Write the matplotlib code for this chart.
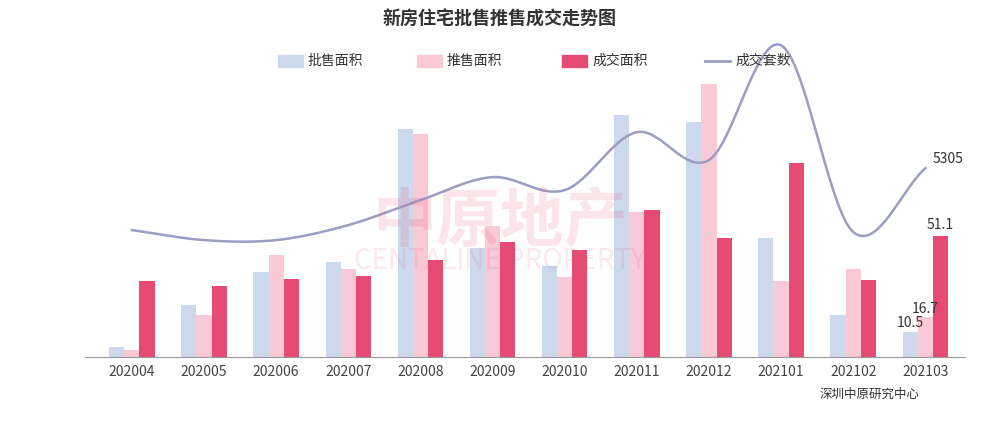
import numpy as np
import matplotlib.pyplot as plt

plt.rcParams['font.family'] = 'Noto Sans CJK SC'

months = ['202004', '202005', '202006', '202007', '202008', '202009',
          '202010', '202011', '202012', '202101', '202102', '202103']
pifu = [4.2, 22, 36, 40, 96, 46, 38.5, 102, 99, 50, 17.5, 10.5]      # 批售面积
tuishou = [3, 17.5, 43, 37, 94, 55, 33.5, 61, 115, 32, 37, 16.7]     # 推售面积
chengjiao = [32, 30, 33, 34, 41, 48.5, 45, 62, 50, 81.5, 32.5, 51.1]  # 成交面积
taoshu = [3565, 3284, 3284, 3705, 4407, 5053, 4688, 6316, 5530, 8758, 3509, 5305]


def smooth(x, y, n=20):
    # Catmull-Rom 曲线，只用于画平滑线
    x = np.asarray(x, float)
    y = np.asarray(y, float)
    px = np.concatenate([[2 * x[0] - x[1]], x, [2 * x[-1] - x[-2]]])
    py = np.concatenate([[2 * y[0] - y[1]], y, [2 * y[-1] - y[-2]]])
    xs, ys = [], []
    t = np.linspace(0, 1, n, endpoint=False)
    for i in range(1, len(px) - 2):
        for arr, out in ((px, xs), (py, ys)):
            p0, p1, p2, p3 = arr[i - 1:i + 3]
            out.extend(0.5 * ((2 * p1) + (-p0 + p2) * t
                              + (2 * p0 - 5 * p1 + 4 * p2 - p3) * t ** 2
                              + (-p0 + 3 * p1 - 3 * p2 + p3) * t ** 3))
    xs.append(x[-1])
    ys.append(y[-1])
    return xs, ys


fig = plt.figure(figsize=(10, 4.21), dpi=100)
ax = fig.add_axes([0.085, 0.152, 0.88, 0.705])
x = np.arange(len(months))
w = 0.21
ax.bar(x - w, pifu, w, color='#ccd9ec')
ax.bar(x, tuishou, w, color='#f9c9d6')
ax.bar(x + w, chengjiao, w, color='#e64b73')
ax.set_ylim(0, 125)
ax.set_xlim(-0.65, len(months) - 0.45)
ax.set_xticks(x)
ax.set_xticklabels(months, fontsize=10, color='#444444')
ax.set_yticks([])
for s in ['top', 'right', 'left']:
    ax.spines[s].set_visible(False)
ax.spines['bottom'].set_color('#999999')
ax.tick_params(axis='x', length=0, pad=6)

ax2 = ax.twinx()
ax2.set_ylim(0, 8337)
sx, sy = smooth(x, taoshu)
ax2.plot(sx, sy, color='#9b9dc3', lw=1.8, clip_on=False)
ax2.axis('off')

# 数据标签
ax.text(x[-1] - w, pifu[-1] + 2, '10.5', ha='center', fontsize=10, color='#333333')
ax.text(x[-1], tuishou[-1] + 2, '16.7', ha='center', fontsize=10, color='#333333')
ax.text(x[-1] + w, chengjiao[-1] + 3, '51.1', ha='center', fontsize=10, color='#333333')
ax2.text(x[-1] + 0.1, taoshu[-1] + 150, '5305', fontsize=10, color='#333333')

# 水印
fig.text(0.5, 0.47, '中原地产', fontsize=46, color='#e64b73', alpha=0.15,
         ha='center', va='center', fontweight='bold')
fig.text(0.5, 0.38, 'CENTALINE PROPERTY', fontsize=20, color='#e64b73', alpha=0.12,
         ha='center', va='center')

fig.text(0.5, 0.955, '新房住宅批售推售成交走势图', ha='center', va='center',
         fontsize=13, fontweight='bold', color='#333333')

# 图例
items = [('批售面积', '#ccd9ec', 'bar'), ('推售面积', '#f9c9d6', 'bar'),
         ('成交面积', '#e64b73', 'bar'), ('成交套数', '#9b9dc3', 'line')]
lx = [0.278, 0.417, 0.562, 0.705]
for (lab, c, kind), x0 in zip(items, lx):
    if kind == 'bar':
        fig.patches.append(plt.Rectangle((x0, 0.84), 0.025, 0.03, color=c,
                                         transform=fig.transFigure))
    else:
        fig.lines.append(plt.Line2D([x0, x0 + 0.025], [0.855, 0.855], color=c, lw=2,
                                    transform=fig.transFigure))
    fig.text(x0 + 0.03, 0.855, lab, fontsize=10, va='center', color='#333333')

fig.text(0.92, 0.055, '深圳中原研究中心', ha='right', fontsize=9, color='#333333')

fig.savefig('out.png', dpi=100, facecolor='white')
